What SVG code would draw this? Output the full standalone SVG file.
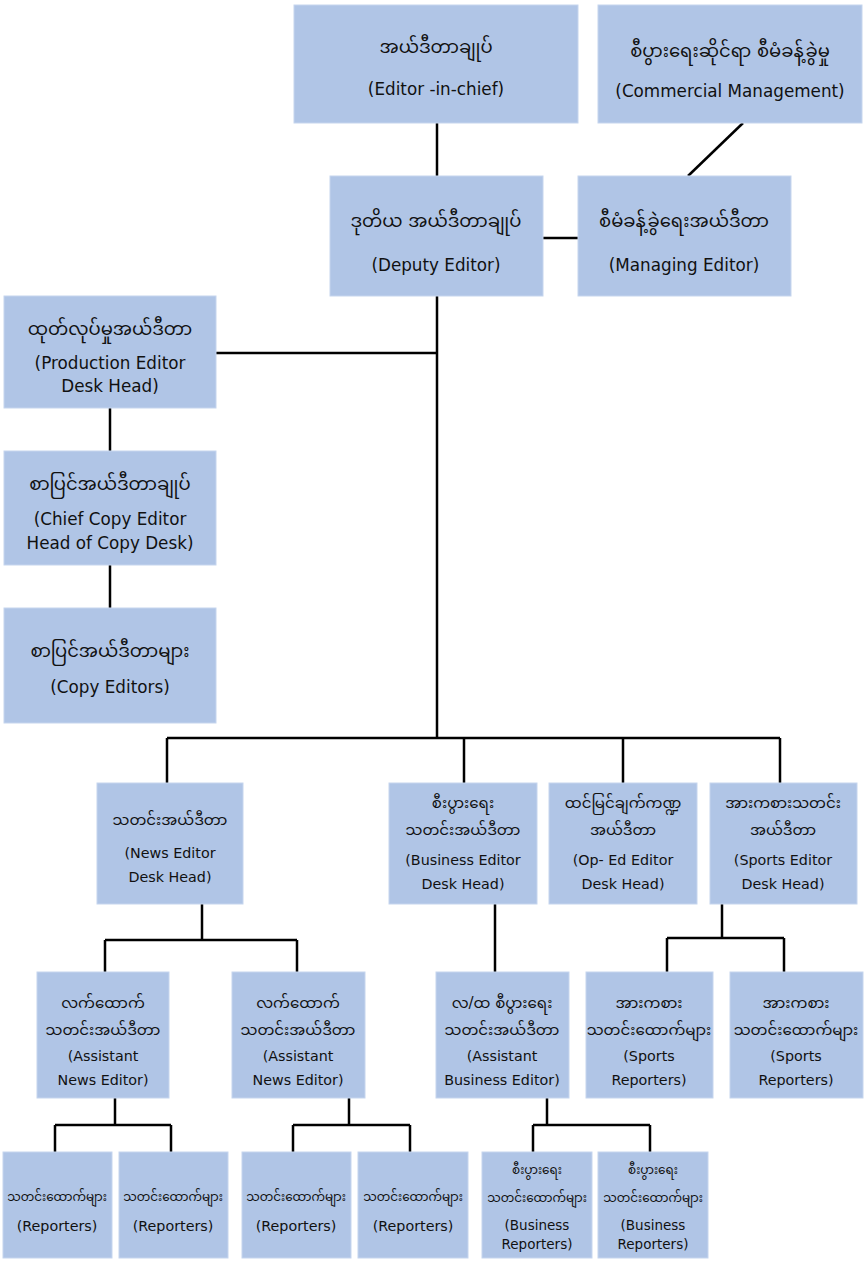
<svg xmlns="http://www.w3.org/2000/svg" width="866" height="1261" viewBox="0 0 866 1261">
<style>
.box{fill:#B0C5E6;stroke:#C6D5EE;stroke-width:1}
.mm,.mmt,.mms{font-family:"DejaVu Sans","Noto Sans Myanmar","Padauk","Myanmar Text","Noto Sans",sans-serif;fill:#111;text-anchor:middle}
.mm{font-size:15px}
.mmt{font-size:18px}
.mms{font-size:12px}
.en,.ent,.ens{font-family:"DejaVu Sans",sans-serif;fill:#111;text-anchor:middle}
.en{font-size:14.3px}
.ent{font-size:16.8px}
.ens{font-size:13.5px}
.con path{fill:none;stroke:#000;stroke-width:2.5}
</style>
<rect width="866" height="1261" fill="#fff"/>
<g class="con">
<path d="M437,123 V176"/>
<path d="M543,238 H578"/>
<path d="M743,123 L688,176"/>
<path d="M437,296 V738"/>
<path d="M216,353 H437"/>
<path d="M110,408 V451"/>
<path d="M110,565 V608"/>
<path d="M167,738 H780 M167,738 V783 M464,738 V783 M623,738 V783 M780,738 V783"/>
<path d="M202,904 V940 M105,940 H297 M105,940 V972 M297,940 V972"/>
<path d="M495,904 V972"/>
<path d="M722,904 V938 M667,938 H784 M667,938 V972 M784,938 V972"/>
<path d="M115,1098 V1125 M55,1125 H171 M55,1125 V1152 M171,1125 V1152"/>
<path d="M349,1098 V1125 M293,1125 H410 M293,1125 V1152 M410,1125 V1152"/>
<path d="M547,1098 V1125 M533,1125 H650 M533,1125 V1152 M650,1125 V1152"/>
</g>
<g id="editor-in-chief"><rect class="box" x="294" y="5" width="284" height="118"/>
<text class="mmt" x="436" y="53">အယ်ဒီတာချုပ်</text><text class="ent" x="436" y="95">(Editor -in-chief)</text></g>
<g id="commercial"><rect class="box" x="598" y="5" width="264" height="118"/>
<text class="mmt" x="730" y="57">စီပွားရေးဆိုင်ရာ စီမံခန့်ခွဲမှု</text><text class="ent" x="730" y="97">(Commercial Management)</text></g>
<g id="deputy"><rect class="box" x="330" y="176" width="213" height="120"/>
<text class="mmt" x="436" y="227">ဒုတိယ အယ်ဒီတာချုပ်</text><text class="ent" x="436" y="271">(Deputy Editor)</text></g>
<g id="managing"><rect class="box" x="578" y="176" width="213" height="120"/>
<text class="mmt" x="684" y="227">စီမံခန့်ခွဲရေးအယ်ဒီတာ</text><text class="ent" x="684" y="271">(Managing Editor)</text></g>
<g id="production"><rect class="box" x="4" y="296" width="212" height="112"/>
<text class="mmt" x="110" y="335">ထုတ်လုပ်မှုအယ်ဒီတာ</text><text class="ent" x="110" y="369">(Production Editor</text><text class="ent" x="110" y="392">Desk Head)</text></g>
<g id="chief-copy"><rect class="box" x="4" y="451" width="212" height="114"/>
<text class="mmt" x="110" y="490">စာပြင်အယ်ဒီတာချုပ်</text><text class="ent" x="110" y="525">(Chief Copy Editor</text><text class="ent" x="110" y="549">Head of Copy Desk)</text></g>
<g id="copy-editors"><rect class="box" x="4" y="608" width="212" height="115"/>
<text class="mmt" x="110" y="657">စာပြင်အယ်ဒီတာများ</text><text class="ent" x="110" y="693">(Copy Editors)</text></g>
<g id="news-editor"><rect class="box" x="97" y="783" width="146" height="121"/>
<text class="mm" x="170" y="825">သတင်းအယ်ဒီတာ</text><text class="en" x="170" y="858">(News Editor</text><text class="en" x="170" y="882">Desk Head)</text></g>
<g id="business-editor"><rect class="box" x="389" y="783" width="148" height="121"/>
<text class="mm" x="463" y="808">စီးပွားရေး</text><text class="mm" x="463" y="835">သတင်းအယ်ဒီတာ</text><text class="en" x="463" y="865">(Business Editor</text><text class="en" x="463" y="889">Desk Head)</text></g>
<g id="oped-editor"><rect class="box" x="549" y="783" width="148" height="121"/>
<text class="mm" x="623" y="808">ထင်မြင်ချက်ကဏ္ဍ</text><text class="mm" x="623" y="835">အယ်ဒီတာ</text><text class="en" x="623" y="865">(Op- Ed Editor</text><text class="en" x="623" y="889">Desk Head)</text></g>
<g id="sports-editor"><rect class="box" x="710" y="783" width="147" height="121"/>
<text class="mm" x="783" y="808">အားကစားသတင်း</text><text class="mm" x="783" y="835">အယ်ဒီတာ</text><text class="en" x="783" y="865">(Sports Editor</text><text class="en" x="783" y="889">Desk Head)</text></g>
<g id="asst-news-1"><rect class="box" x="37" y="972" width="132" height="126"/>
<text class="mm" x="103" y="1008">လက်ထောက်</text><text class="mm" x="103" y="1035">သတင်းအယ်ဒီတာ</text><text class="en" x="103" y="1061">(Assistant</text><text class="en" x="103" y="1085">News Editor)</text></g>
<g id="asst-news-2"><rect class="box" x="232" y="972" width="133" height="126"/>
<text class="mm" x="298" y="1008">လက်ထောက်</text><text class="mm" x="298" y="1035">သတင်းအယ်ဒီတာ</text><text class="en" x="298" y="1061">(Assistant</text><text class="en" x="298" y="1085">News Editor)</text></g>
<g id="asst-business"><rect class="box" x="436" y="972" width="133" height="126"/>
<text class="mm" x="502" y="1008">လ/ထ စီပွားရေး</text><text class="mm" x="502" y="1035">သတင်းအယ်ဒီတာ</text><text class="en" x="502" y="1061">(Assistant</text><text class="en" x="502" y="1085">Business Editor)</text></g>
<g id="sports-rep-1"><rect class="box" x="586" y="972" width="127" height="126"/>
<text class="mm" x="649" y="1008">အားကစား</text><text class="mm" x="649" y="1035">သတင်းထောက်များ</text><text class="en" x="649" y="1061">(Sports</text><text class="en" x="649" y="1085">Reporters)</text></g>
<g id="sports-rep-2"><rect class="box" x="730" y="972" width="133" height="126"/>
<text class="mm" x="796" y="1008">အားကစား</text><text class="mm" x="796" y="1035">သတင်းထောက်များ</text><text class="en" x="796" y="1061">(Sports</text><text class="en" x="796" y="1085">Reporters)</text></g>
<g id="rep-1"><rect class="box" x="3" y="1152" width="109" height="106"/>
<text class="mms" x="57" y="1201">သတင်းထောက်များ</text><text class="en" x="57" y="1231">(Reporters)</text></g>
<g id="rep-2"><rect class="box" x="119" y="1152" width="109" height="106"/>
<text class="mms" x="173" y="1201">သတင်းထောက်များ</text><text class="en" x="173" y="1231">(Reporters)</text></g>
<g id="rep-3"><rect class="box" x="242" y="1152" width="109" height="106"/>
<text class="mms" x="296" y="1201">သတင်းထောက်များ</text><text class="en" x="296" y="1231">(Reporters)</text></g>
<g id="rep-4"><rect class="box" x="358" y="1152" width="110" height="106"/>
<text class="mms" x="413" y="1201">သတင်းထောက်များ</text><text class="en" x="413" y="1231">(Reporters)</text></g>
<g id="biz-rep-1"><rect class="box" x="482" y="1152" width="110" height="106"/>
<text class="mms" x="537" y="1174">စီးပွားရေး</text><text class="mms" x="537" y="1202">သတင်းထောက်များ</text><text class="ens" x="537" y="1230">(Business</text><text class="ens" x="537" y="1249">Reporters)</text></g>
<g id="biz-rep-2"><rect class="box" x="598" y="1152" width="110" height="106"/>
<text class="mms" x="653" y="1174">စီးပွားရေး</text><text class="mms" x="653" y="1202">သတင်းထောက်များ</text><text class="ens" x="653" y="1230">(Business</text><text class="ens" x="653" y="1249">Reporters)</text></g>
</svg>
